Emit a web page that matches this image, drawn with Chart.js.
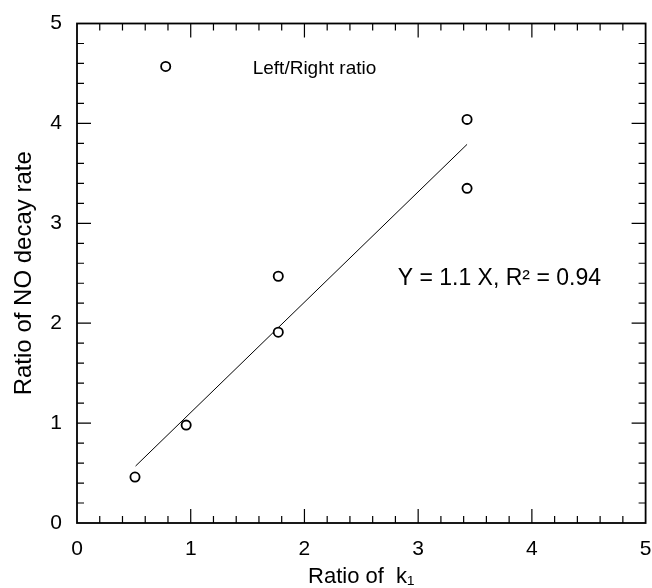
<!DOCTYPE html>
<html>
<head>
<meta charset="utf-8">
<script src="https://cdn.jsdelivr.net/npm/chart.js@4"></script>
<style>
  body { margin: 0; background: #fff; }
  #wrap { width: 652px; height: 588px; }
</style>
</head>
<body>
<div id="wrap"><canvas id="ratioChart" width="652" height="588"></canvas></div>
<script>
// 數據
const kRatio = [0.78, 3.43, 3.43, 1.77, 1.77, 0.96, 0.51];
const decayRatio = [4.57, 4.04, 3.35, 2.47, 1.91, 0.98, 0.46];

// 迴歸線 Y = 1.1 X 的兩端
const fitX = [0.515, 3.43];
const fitY = [0.57, 3.79];

// 座標軸
const axisMin = 0;
const axisMax = 5;
const xTitle = 'Ratio of  k\u2081';
const yTitle = 'Ratio of NO decay rate';

// 圖上的文字 (資料座標)
const notes = [
    { text: 'Left/Right ratio', x: 1.545, y: 4.49, size: 19 },
    { text: 'Y = 1.1 X, R\u00b2 = 0.94', x: 2.82, y: 2.38, size: 23 }
];

const fontFamily = "'Liberation Sans', Arial, sans-serif";

// 邊框和向內的刻度
const framePlugin = {
    id: 'frame',
    afterDraw(chart) {
        const ctx = chart.ctx;
        const area = chart.chartArea;
        const xs = chart.scales.x;
        const ys = chart.scales.y;
        ctx.save();
        ctx.strokeStyle = '#000';
        ctx.lineWidth = 1.2;
        for (let i = 1; i < 25; i++) {
            const v = i / 5;
            const len = (i % 5 === 0) ? 14 : 7;
            const px = xs.getPixelForValue(v);
            const py = ys.getPixelForValue(v);
            ctx.beginPath();
            ctx.moveTo(px, area.bottom); ctx.lineTo(px, area.bottom - len);
            ctx.moveTo(px, area.top); ctx.lineTo(px, area.top + len);
            ctx.moveTo(area.left, py); ctx.lineTo(area.left + len, py);
            ctx.moveTo(area.right, py); ctx.lineTo(area.right - len, py);
            ctx.stroke();
        }
        ctx.lineWidth = 1.8;
        ctx.strokeRect(area.left, area.top, area.right - area.left, area.bottom - area.top);

        // 註解文字
        ctx.fillStyle = '#000';
        ctx.textAlign = 'left';
        ctx.textBaseline = 'alphabetic';
        notes.forEach(n => {
            ctx.font = n.size + 'px ' + fontFamily;
            ctx.fillText(n.text, xs.getPixelForValue(n.x), ys.getPixelForValue(n.y));
        });
        ctx.restore();
    }
};

const ratioChart = new Chart(document.getElementById('ratioChart'), {
    type: 'scatter',
    data: {
        datasets: [{
            label: 'Left/Right ratio',
            data: kRatio.map((x, i) => ({ x: x, y: decayRatio[i] })),
            pointStyle: 'circle',
            pointRadius: 4.6,
            pointBorderWidth: 1.8,
            pointBorderColor: '#000',
            pointBackgroundColor: '#fff',
            showLine: false
        }, {
            label: 'fit',
            data: fitX.map((x, i) => ({ x: x, y: fitY[i] })),
            showLine: true,
            borderColor: '#000',
            borderWidth: 1,
            pointRadius: 0,
            fill: false
        }]
    },
    options: {
        responsive: false,
        animation: false,
        layout: { padding: { left: 0, right: 5, top: 23.5, bottom: 0 } },
        plugins: {
            legend: { display: false },
            tooltip: { enabled: false }
        },
        scales: {
            x: {
                type: 'linear',
                min: axisMin,
                max: axisMax,
                grid: { display: false, drawTicks: false },
                border: { display: false },
                ticks: {
                    stepSize: 1,
                    padding: 14,
                    color: '#000',
                    font: { family: fontFamily, size: 21 }
                },
                title: {
                    display: true,
                    text: xTitle,
                    color: '#000',
                    padding: 0,
                    font: { family: fontFamily, size: 22, lineHeight: 1 }
                },
                afterFit(scale) {
                    scale.height = 65;
                    scale.paddingLeft = 0;
                    scale.paddingRight = 0;
                }
            },
            y: {
                type: 'linear',
                min: axisMin,
                max: axisMax,
                grid: { display: false, drawTicks: false },
                border: { display: false },
                ticks: {
                    stepSize: 1,
                    padding: 15,
                    color: '#000',
                    font: { family: fontFamily, size: 21 }
                },
                title: {
                    display: true,
                    text: yTitle,
                    color: '#000',
                    padding: { top: 10, bottom: 0 },
                    font: { family: fontFamily, size: 24 }
                },
                afterFit(scale) {
                    scale.width = 77;
                    scale.paddingTop = 0;
                    scale.paddingBottom = 0;
                }
            }
        }
    },
    plugins: [framePlugin]
});
</script>
</body>
</html>
